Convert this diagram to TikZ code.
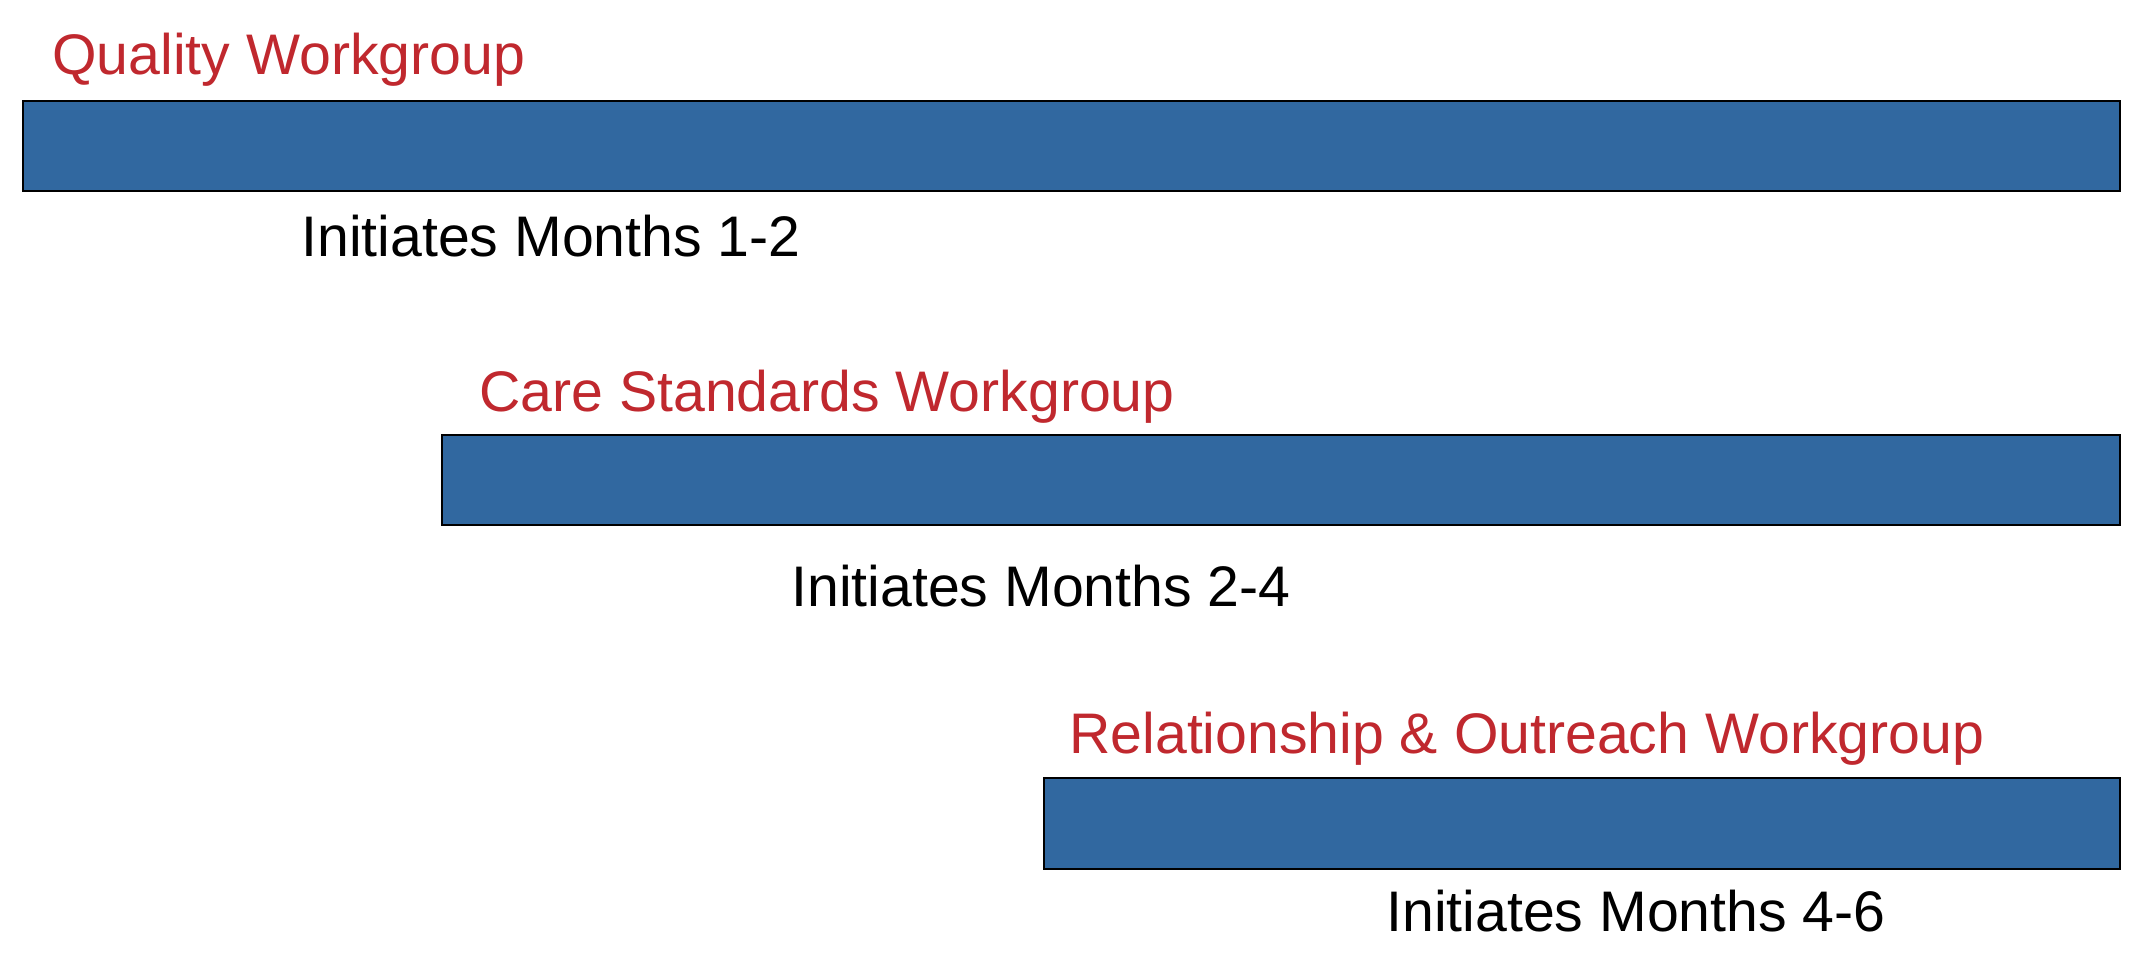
\documentclass[tikz,border=0pt]{standalone}
\usepackage{fontspec}
\setmainfont{Liberation Sans}
\definecolor{barblue}{RGB}{49,104,160}
\definecolor{titlered}{RGB}{192,40,46}
\begin{document}
\begin{tikzpicture}[x=0.5pt,y=-0.5pt,
  bar/.style={draw=black,line width=1pt,fill=barblue,rectangle,inner sep=0pt,anchor=north west},
  title/.style={anchor=base west,inner sep=0pt,text=titlered,font=\fontsize{28.6pt}{34pt}\selectfont},
  note/.style={anchor=base west,inner sep=0pt,text=black,font=\fontsize{28.6pt}{34pt}\selectfont}]
\useasboundingbox[fill=white] (0,0) rectangle (2146,974);
\node[title] (t1) at (52,75) {Quality Workgroup};
\node[bar,minimum width=1048.5pt,minimum height=45pt] (b1) at (22,100) {};
\node[note] (n1) at (301,256) {Initiates Months 1-2};
\node[title] (t2) at (479,411) {Care Standards Workgroup};
\node[bar,minimum width=839pt,minimum height=45pt] (b2) at (441,434) {};
\node[note] (n2) at (791,606) {Initiates Months 2-4};
\node[title] (t3) at (1069,753) {Relationship \& Outreach Workgroup};
\node[bar,minimum width=538pt,minimum height=45.5pt] (b3) at (1043,777) {};
\node[note] (n3) at (1386,931) {Initiates Months 4-6};
\end{tikzpicture}
\end{document}
